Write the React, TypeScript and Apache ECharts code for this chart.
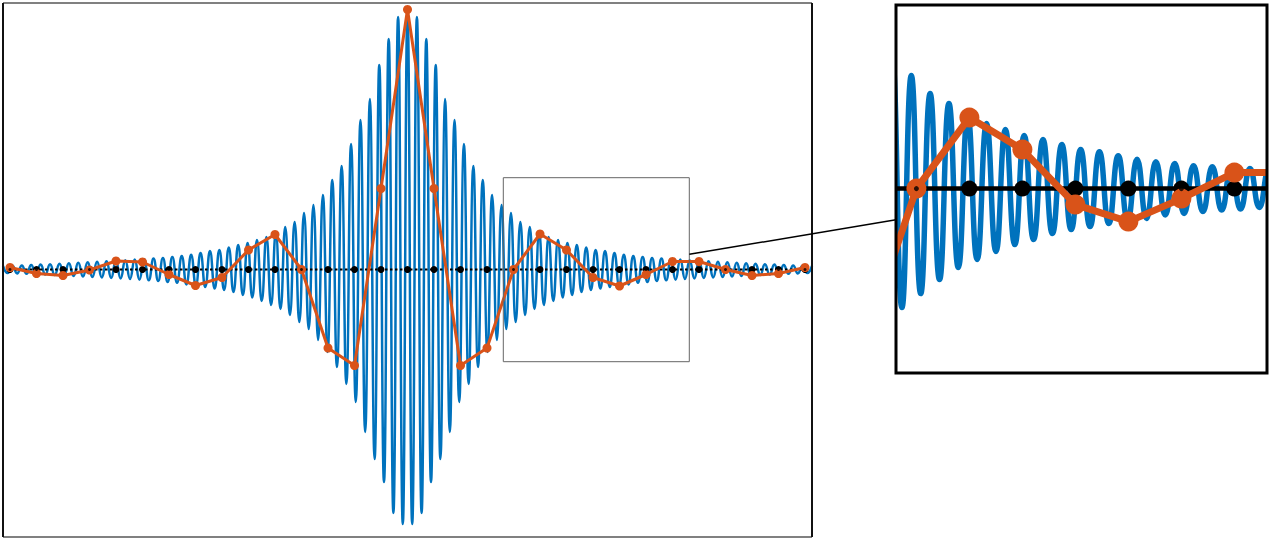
import { useEffect, useRef } from "react";
import * as echarts from "echarts";

// Blue oscillation: extreme values (peaks/troughs) per half-cycle, k = -86 .. 86
const blueSignal = [
  3.5, -3.6, 3.7, -3.9, 4.1, -4.3, 4.5, -4.7, 4.9, -5.1, 5.3, -5.5, 5.7, -6, 6.2, -6.4, 6.7, -6.9, 7.2, -7.4,
  7.7, -7.9, 8.2, -8.4, 8.7, -8.9, 9.2, -9.4, 10, -10.2, 10.3, -10.7, 10.9, -11.5, 11.4, -12.4, 12.5, -13.2, 13.4, -14.9,
  14.7, -16, 16.4, -17.4, 18.4, -19, 19.5, -20.5, 22, -22.5, 24.5, -25.5, 26.5, -28, 29.5, -31.5, 32.5, -35.5, 36.5, -39.5,
  42.5, -45.5, 47.5, -52.5, 56.5, -59.5, 64.5, -70.5, 74.5, -82.5, 89.5, -97.5, 103.5, -114.5, 125.5, -132.5, 149.5, -162.5, 170.5, -189.5,
  204.5, -212.5, 230.5, -243.5, 252.5, -254.5,
  257,
  -254.5, 252.5, -243.5, 230.5, -212.5, 204.5, -189.5, 170.5, -162.5,
  149.5, -132.5, 125.5, -114.5, 103.5, -97.5, 89.5, -82.5, 74.5, -70.5,
  64.5, -59.5, 56.5, -52.5, 47.5, -45.5, 42.5, -39.5, 36.5, -35.5,
  32.5, -31.5, 29.5, -28, 26.5, -25.5, 24.5, -22.5, 22, -20.5,
  19.5, -19, 18.4, -17.4, 16.4, -16, 14.7, -14.9, 13.4, -13.2,
  12.5, -12.4, 11.4, -11.5, 10.9, -10.7, 10.3, -10.2, 10, -9.4,
  9.2, -8.9, 8.7, -8.4, 8.2, -7.9, 7.7, -7.4, 7.2, -6.9,
  6.7, -6.4, 6.2, -6, 5.7, -5.5, 5.3, -5.1, 4.9, -4.7,
  4.5, -4.3, 4.1, -3.9, 3.7, -3.6, 3.5,
];
const blueFirstK = -86;

// Orange samples
const sampleIndex = [
  -15, -14, -13, -12, -11, -10, -9, -8, -7, -6, -5, -4, -3, -2, -1, 0,
  1, 2, 3, 4, 5, 6, 7, 8, 9, 10, 11, 12, 13, 14, 15,
];
const orangeSamples = [
  2, -4, -6, -0.5, 8.5, 7.5, -5, -16, -8, 19.5, 35, 0, -78.5, -96, 81, 260,
  81, -96, -78.5, 0, 35.5, 19.5, -8, -16.5, -5, 8, 8, 0, -6, -4, 2,
];
const zeroSamples = [
  0, 0, 0, 0, 0, 0, 0, 0, 0, 0, 0, 0, 0, 0, 0, 0,
  0, 0, 0, 0, 0, 0, 0, 0, 0, 0, 0, 0, 0, 0, 0,
];

const BLUE = "#0072BD";
const ORANGE = "#D95319";

function buildSeries(gridIdx: number, big: boolean) {
  const xb = gridIdx * 2;
  const xo = gridIdx * 2 + 1;
  const y = gridIdx;
  const blueData = blueSignal.map((v, i) => [i + blueFirstK, v]);
  const orangeData = sampleIndex.map((n, i) => [n, orangeSamples[i]]);
  const zeroData = sampleIndex.map((n, i) => [n, zeroSamples[i]]);
  return [
    {
      type: "line",
      xAxisIndex: xb,
      yAxisIndex: y,
      data: blueData,
      smooth: true,
      symbol: "none",
      clip: true,
      lineStyle: { color: BLUE, width: big ? 5.5 : 2.5 },
      z: 2,
      silent: true,
    },
    {
      type: "line",
      xAxisIndex: xo,
      yAxisIndex: y,
      data: zeroData,
      symbol: "circle",
      symbolSize: big ? 16 : 7,
      showAllSymbol: true,
      clip: true,
      itemStyle: { color: "#000" },
      lineStyle: { color: "#000", width: big ? 4.5 : 2, type: big ? "solid" : [2.5, 2.5] },
      z: 3,
      silent: true,
    },
    {
      type: "line",
      xAxisIndex: xo,
      yAxisIndex: y,
      data: orangeData,
      symbol: "circle",
      symbolSize: big ? 20 : 9,
      showAllSymbol: true,
      clip: true,
      itemStyle: { color: ORANGE },
      lineStyle: { color: ORANGE, width: big ? 7 : 3 },
      z: 4,
      silent: true,
    },
    {
      type: "scatter",
      xAxisIndex: xo,
      yAxisIndex: y,
      data: zeroData,
      symbol: "circle",
      symbolSize: big ? 5 : 3,
      clip: true,
      itemStyle: { color: "#000" },
      z: 5,
      silent: true,
    },
  ];
}

export default function App() {
  const ref = useRef<HTMLDivElement>(null);
  useEffect(() => {
    if (!ref.current) return;
    const chart = echarts.init(ref.current, null, { renderer: "svg" });
    const hidden = { show: false };
    chart.setOption({
      animation: false,
      backgroundColor: "#fff",
      grid: [
        { left: 3, top: 3, width: 809, height: 534 },
        { left: 896, top: 5, width: 372, height: 368 },
      ],
      xAxis: [
        { type: "value", gridIndex: 0, min: -86, max: 86, ...hidden },
        { type: "value", gridIndex: 0, min: -15.264, max: 15.264, ...hidden },
        { type: "value", gridIndex: 1, min: 20.37, max: 59.92, ...hidden },
        { type: "value", gridIndex: 1, min: 3.615, max: 10.634, ...hidden },
      ],
      yAxis: [
        { type: "value", gridIndex: 0, min: -267.5, max: 266.5, ...hidden },
        { type: "value", gridIndex: 1, min: -92.2, max: 91.8, ...hidden },
      ],
      series: [...buildSeries(0, false), ...buildSeries(1, true)],
      graphic: [
        // masks that hide line bleed outside the inset frame
        { type: "rect", z: 18, shape: { x: 860, y: 0, width: 35, height: 380 }, style: { fill: "#fff" } },
        { type: "rect", z: 18, shape: { x: 1268, y: 0, width: 10, height: 380 }, style: { fill: "#fff" } },
        { type: "line", z: 20, shape: { x1: 3, y1: 3, x2: 812, y2: 3 }, style: { stroke: "#808080", lineWidth: 2 } },
        { type: "line", z: 20, shape: { x1: 3, y1: 537, x2: 812, y2: 537 }, style: { stroke: "#808080", lineWidth: 2 } },
        { type: "line", z: 20, shape: { x1: 3, y1: 3, x2: 3, y2: 537 }, style: { stroke: "#111", lineWidth: 2 } },
        { type: "line", z: 20, shape: { x1: 812, y1: 3, x2: 812, y2: 537 }, style: { stroke: "#111", lineWidth: 2 } },
        {
          type: "rect",
          z: 20,
          shape: { x: 503.3, y: 177.7, width: 186, height: 184 },
          style: { fill: "none", stroke: "#666", lineWidth: 1 },
        },
        {
          type: "line",
          z: 20,
          shape: { x1: 689.3, y1: 254.3, x2: 896, y2: 219.8 },
          style: { stroke: "#000", lineWidth: 1.5 },
        },
        {
          type: "rect",
          z: 20,
          shape: { x: 896, y: 5, width: 371, height: 368 },
          style: { fill: "none", stroke: "#000", lineWidth: 3 },
        },
      ],
    });
    return () => chart.dispose();
  }, []);
  return (
    <div
      ref={ref}
      style={{ position: "fixed", left: 0, top: 0, width: 1272, height: 540, background: "#fff" }}
    />
  );
}
